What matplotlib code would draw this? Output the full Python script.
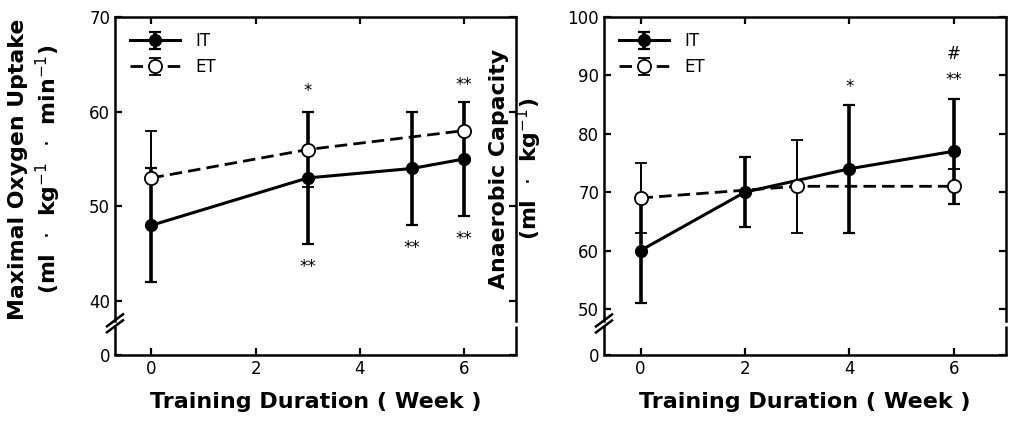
import matplotlib.pyplot as plt
import matplotlib.transforms as mtransforms

# data kiri: VO2max
minggu_it_1 = [0, 3, 5, 6]
it_1 = [48, 53, 54, 55]
it_1_err = [6, 7, 6, 6]
minggu_et_1 = [0, 3, 6]
et_1 = [53, 56, 58]
et_1_err = [5, 4, 3]

# data kanan: kapasitas anaerob
minggu_it_2 = [0, 2, 4, 6]
it_2 = [60, 70, 74, 77]
it_2_err = [9, 6, 11, 9]
minggu_et_2 = [0, 3, 6]
et_2 = [69, 71, 71]
et_2_err = [6, 8, 3]

# tanda signifikansi (x, y, teks)
tanda_1 = [(3, 62.2, '*'), (3, 43.6, '**'), (5, 45.6, '**'), (6, 62.8, '**'), (6, 46.6, '**')]
tanda_2 = [(4, 88.0, '*'), (6, 89.2, '**'), (6, 93.6, '#')]

xticks = [0, 2, 4, 6]

fig = plt.figure(figsize=(10.15, 4.22), dpi=100)
ax1 = fig.add_axes([115/1015, 1-355/422, 401/1015, 338/422])
ax2 = fig.add_axes([604/1015, 1-355/422, 402/1015, 338/422])


def gambar(ax, xi, yi, ei, xe, ye, ee, ylim, yticks, gap, tanda, ylabel):
    ax.errorbar(xi, yi, yerr=ei, color='black', lw=2.2, marker='o', ms=8.5,
                mfc='black', mec='black', elinewidth=2.6, capsize=4, capthick=1.6,
                label='IT', zorder=3)
    ax.errorbar(xe, ye, yerr=ee, color='black', lw=2.0, ls='--', dashes=(4.5, 2.2),
                marker='o', ms=9.5, mfc='white', mec='black', mew=1.3,
                elinewidth=1.4, capsize=4, capthick=1.4, label='ET', zorder=4)
    for x, y, t in tanda:
        ax.text(x, y, t, ha='center', va='center', fontsize=12)

    ax.set_xlim(-0.7, 7.0)
    ax.set_ylim(*ylim)
    ax.set_xticks(xticks)
    ax.set_yticks([ylim[0]] + yticks)
    ax.set_yticklabels(['0'] + [str(v) for v in yticks])
    ax.tick_params(direction='in', length=5, width=1.6, labelsize=12,
                   top=True, right=True)
    for s in ax.spines.values():
        s.set_linewidth(1.8)

    # sumbu patah
    ax.spines['left'].set_bounds(gap[1], ylim[1])
    ax.spines['right'].set_bounds(gap[1], ylim[1])
    tr = mtransforms.blended_transform_factory(ax.transAxes, ax.transData)
    for xx in [0, 1]:
        ax.plot([xx, xx], [ylim[0], gap[0]], color='black', lw=1.8,
                transform=tr, clip_on=False, solid_capstyle='butt')
    h = ax.get_position().height * 422
    w = ax.get_position().width * 1015
    ymid = (gap[0] + gap[1]) / 2
    yf = (ymid - ylim[0]) / (ylim[1] - ylim[0])
    for off in [-3.0, 3.0]:
        ax.plot([-8/w, 8/w], [yf + (off - 6)/h, yf + (off + 6)/h], color='black',
                lw=1.8, transform=ax.transAxes, clip_on=False)

    ax.set_xlabel('Training Duration ( Week )', fontsize=16, fontweight='bold',
                  labelpad=10)
    ax.set_ylabel(ylabel, fontsize=15.8, fontweight='bold', linespacing=1.25)
    ax.legend(loc='upper left', frameon=False, fontsize=12, handlelength=3.0,
              handletextpad=0.9, borderaxespad=0.5)


gambar(ax1, minggu_it_1, it_1, it_1_err, minggu_et_1, et_1, et_1_err,
       (34.3, 70), [40, 50, 60, 70], (37.4, 37.9), tanda_1,
       'Maximal Oxygen Uptake\n(ml  $\\cdot$  kg$^{-1}$  $\\cdot$  min$^{-1}$)')
gambar(ax2, minggu_it_2, it_2, it_2_err, minggu_et_2, et_2, et_2_err,
       (42.1, 100), [50, 60, 70, 80, 90, 100], (47.1, 47.9), tanda_2,
       'Anaerobic Capacity\n(ml  $\\cdot$  kg$^{-1}$)')
ax1.yaxis.set_label_coords(-0.13, 0.55)
ax2.yaxis.set_label_coords(-0.149, 0.55)

fig.savefig('out.png', dpi=100)
